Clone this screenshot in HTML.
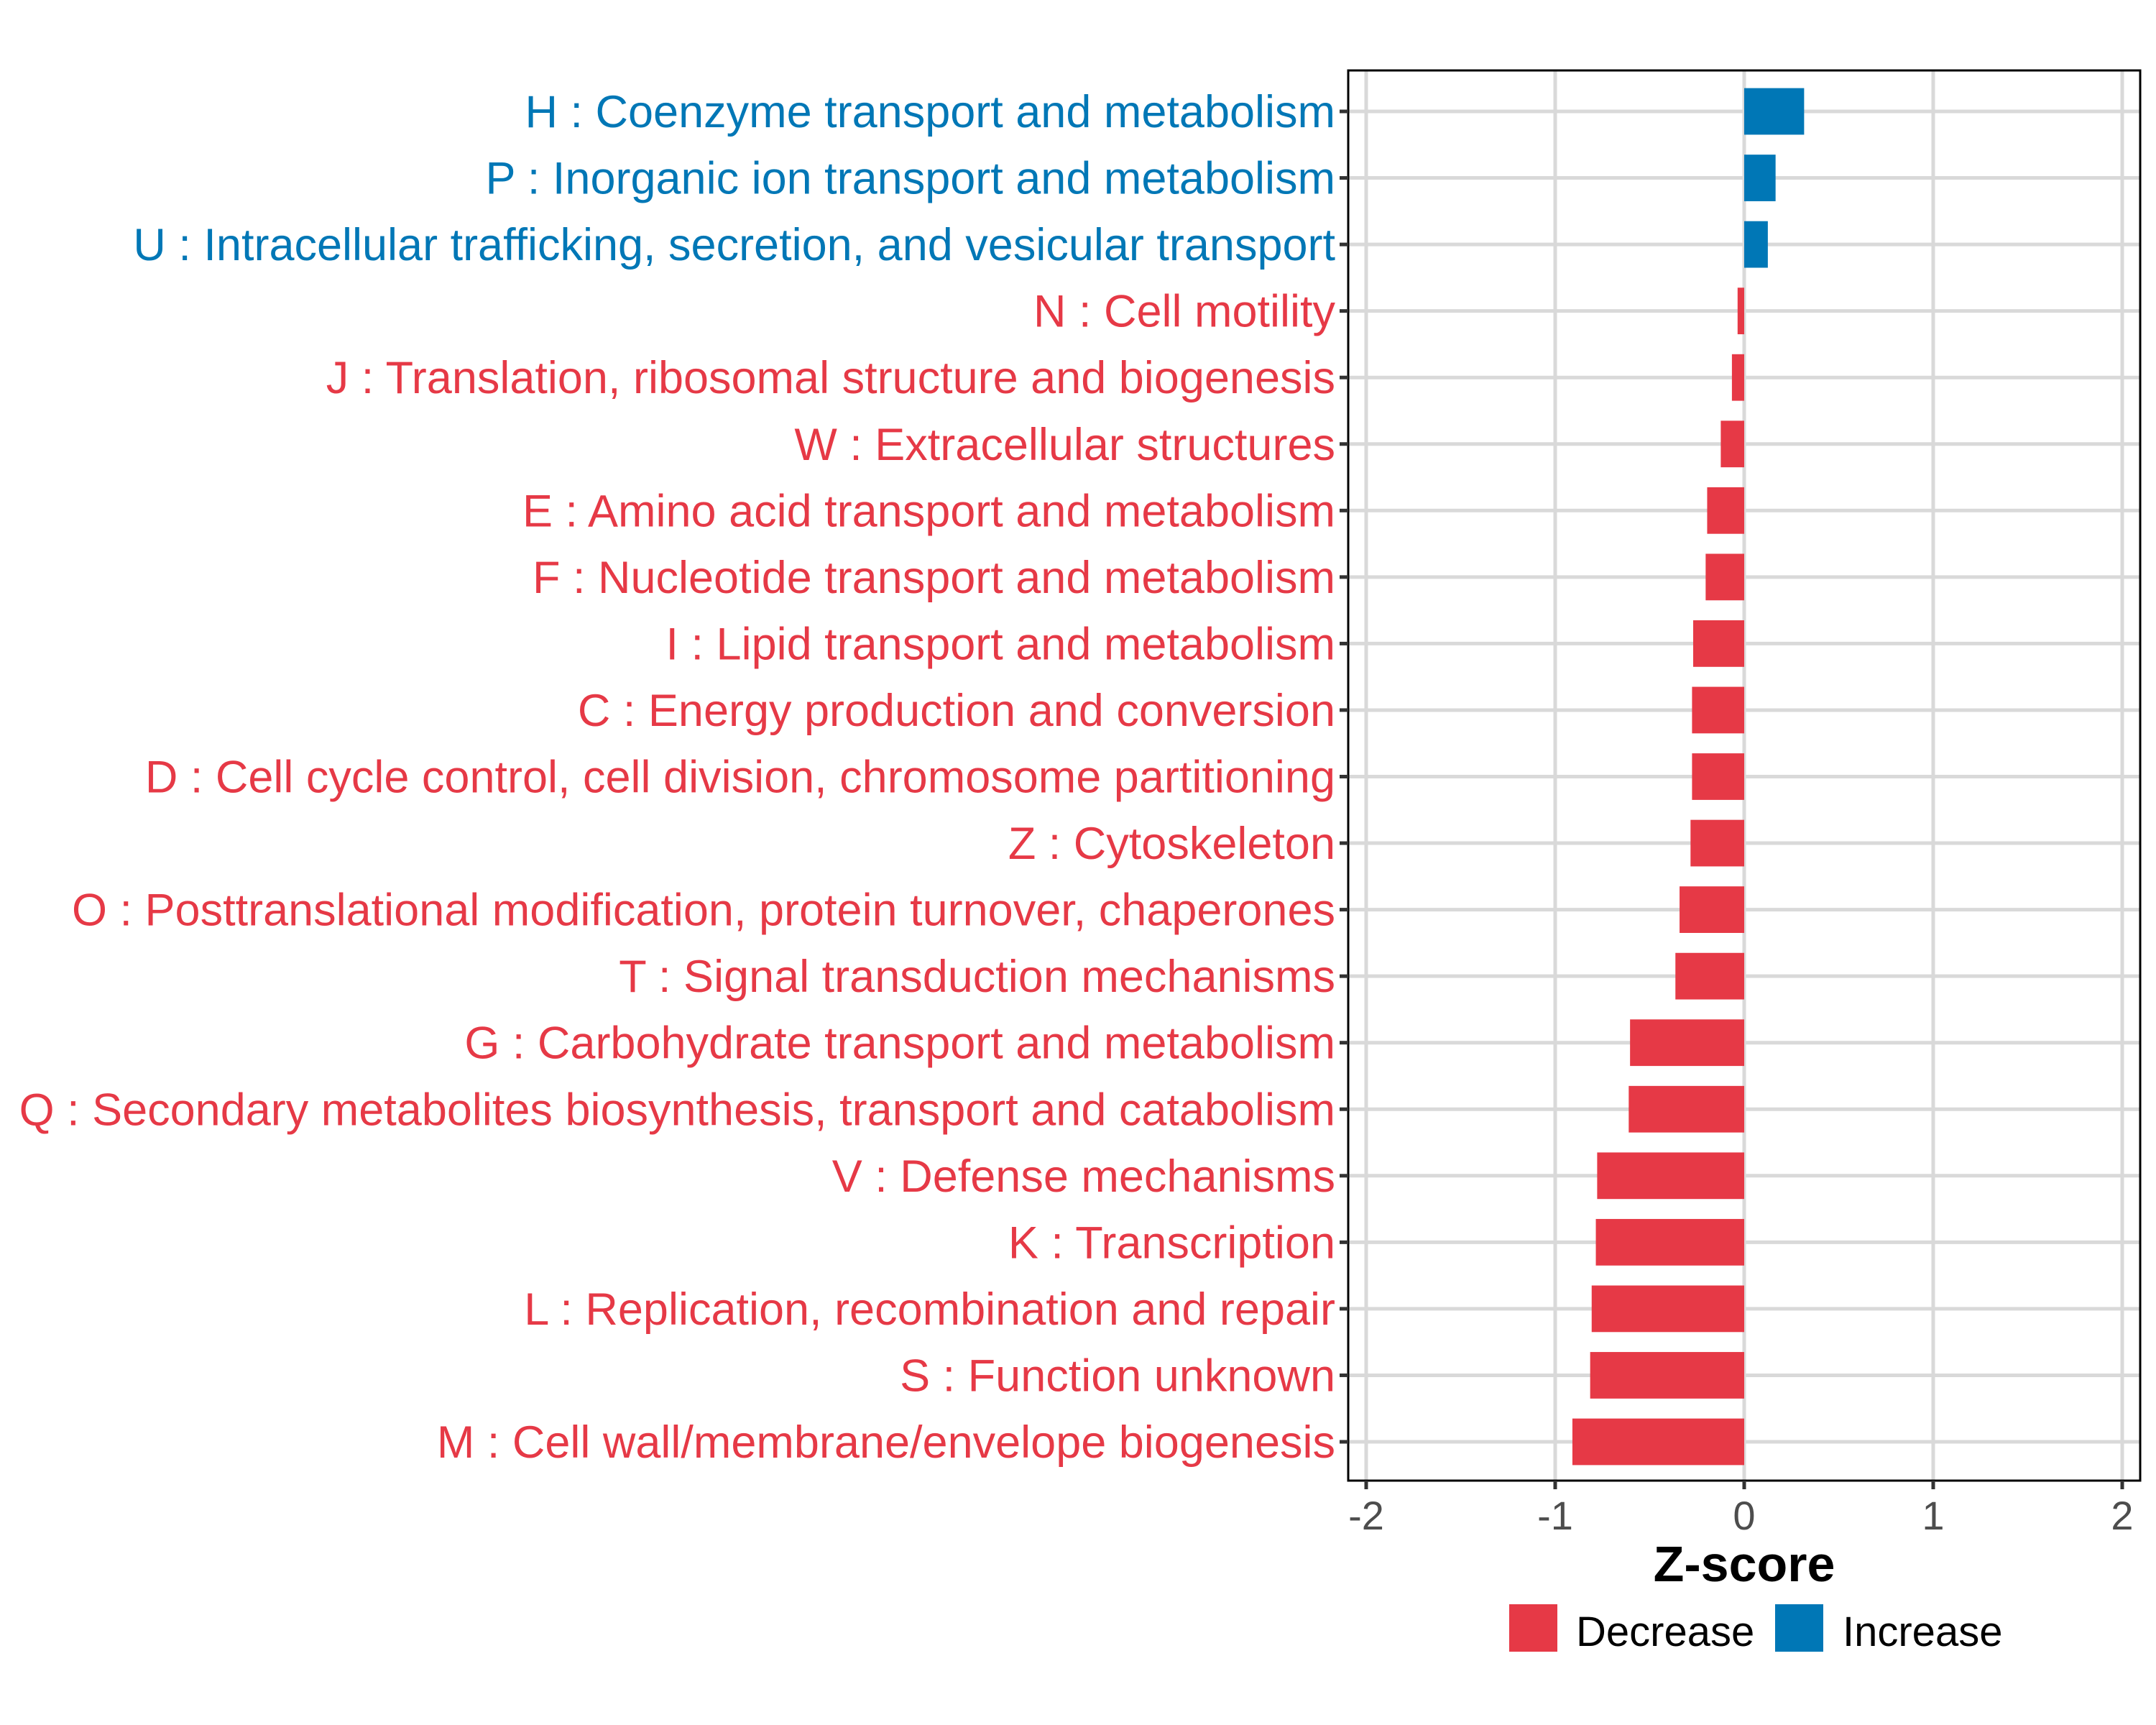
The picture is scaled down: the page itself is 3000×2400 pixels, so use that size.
<!DOCTYPE html>
<html><head><meta charset="utf-8"><style>
html,body{margin:0;padding:0;background:#fff;}
svg{display:block;font-family:"Liberation Sans",Arial,sans-serif;}
</style></head><body>
<svg id="chart" width="3000" height="2400" viewBox="0 0 3000 2400">
<rect x="1876" y="98" width="1102" height="1962" fill="#fff"/>
<g id="grid"></g><g id="bars"></g>
<rect x="1876" y="98" width="1102" height="1962" fill="none" stroke="#000" stroke-width="3"/>
<g id="ylabels"></g><g id="xaxis"></g>
<text x="2427" y="2200" font-size="70" font-weight="bold" text-anchor="middle" fill="#000">Z-score</text>
<g>
<rect x="2100" y="2232" width="67" height="66" fill="#E63946"/>
<text x="2193" y="2290" font-size="58" fill="#000">Decrease</text>
<rect x="2470" y="2232" width="67" height="66" fill="#0077B6"/>
<text x="2564" y="2290" font-size="58" fill="#000">Increase</text>
</g>
</svg>
<script>
const categories = ["H : Coenzyme transport and metabolism","P : Inorganic ion transport and metabolism","U : Intracellular trafficking, secretion, and vesicular transport","N : Cell motility","J : Translation, ribosomal structure and biogenesis","W : Extracellular structures","E : Amino acid transport and metabolism","F : Nucleotide transport and metabolism","I : Lipid transport and metabolism","C : Energy production and conversion","D : Cell cycle control, cell division, chromosome partitioning","Z : Cytoskeleton","O : Posttranslational modification, protein turnover, chaperones","T : Signal transduction mechanisms","G : Carbohydrate transport and metabolism","Q : Secondary metabolites biosynthesis, transport and catabolism","V : Defense mechanisms","K : Transcription","L : Replication, recombination and repair","S : Function unknown","M : Cell wall/membrane/envelope biogenesis"];
const zscores = [0.317,0.166,0.125,-0.035,-0.065,-0.124,-0.196,-0.204,-0.27,-0.276,-0.276,-0.284,-0.342,-0.364,-0.604,-0.611,-0.778,-0.785,-0.807,-0.815,-0.909];
const xTicks = [-2,-1,0,1,2];
const xTickLabels = ["-2","-1","0","1","2"];
const NS="http://www.w3.org/2000/svg";
const RED="#E63946", BLUE="#0077B6";
function xs(v){return 2427 + v*263;}
function ys(i){return 155 + i*(2006-155)/(categories.length-1);}
const step=(2006-155)/(categories.length-1), bh=step*0.7;
function mk(tag,attrs,parent){const e=document.createElementNS(NS,tag);for(const k in attrs)e.setAttribute(k,attrs[k]);parent.appendChild(e);return e;}
const grid=document.getElementById('grid'),bars=document.getElementById('bars'),yl=document.getElementById('ylabels'),xa=document.getElementById('xaxis');
xTicks.forEach((t,i)=>{
  const g=mk('line',{x1:xs(t),x2:xs(t),y1:98,y2:2060,stroke:'#d9d9d9','stroke-width':5},grid);
  
  
  const tk=mk('line',{x1:xs(t),x2:xs(t),y1:2060,y2:2072,stroke:'#333','stroke-width':5},xa);
  
  
  const tl=mk('text',{x:xs(t),y:2128,'font-size':56,fill:'#4d4d4d','text-anchor':'middle'},xa);
  tl.textContent=xTickLabels[i];
  
  
});
categories.forEach((c,i)=>{
  const y=ys(i), v=zscores[i], col=v>=0?BLUE:RED;
  const g=mk('line',{x1:1876,x2:2978,y1:y,y2:y,stroke:'#d9d9d9','stroke-width':5},grid);
  
  
  const r=mk('rect',{x:Math.min(xs(0),xs(v)),y:y-bh/2,width:Math.abs(xs(v)-xs(0)),height:bh,fill:col},bars);
  
  
  const tk=mk('line',{x1:1864,x2:1876,y1:y,y2:y,stroke:'#333','stroke-width':5},yl);
  
  
  const t=mk('text',{x:1858,y:y+22,'font-size':63,fill:col,'text-anchor':'end'},yl);
  t.textContent=c;
  
  
});
</script>
</body></html>
